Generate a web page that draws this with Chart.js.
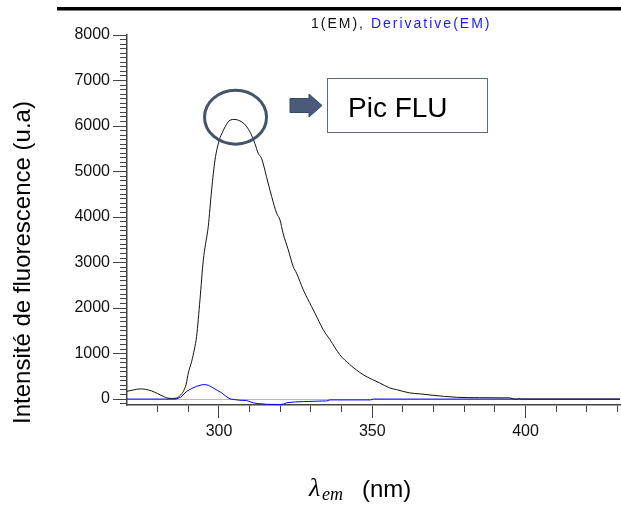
<!DOCTYPE html>
<html><head><meta charset="utf-8">
<script src="https://cdn.jsdelivr.net/npm/chart.js@4/dist/chart.umd.min.js"></script>
<style>html,body{margin:0;padding:0;background:#fff;overflow:hidden}canvas{display:block}</style>
</head><body>
<canvas id="c" width="621" height="506"></canvas>
<script>
// ---- data ----
const emWavelength = [270, 272, 274.3, 276, 278, 280, 282, 283, 284.5, 286, 287.5, 288.4, 289.3, 290, 291.1, 292, 292.7, 293.8, 294.9, 295.6, 296.5, 297.6, 298.7, 300.1, 301.2, 302, 303.6, 305.2, 306.8, 308.1, 310.1, 311.7, 312.8, 313.9, 315.5, 317.2, 318.8, 319.9, 320.9, 322.6, 324.2, 325.3, 327.5, 330.2, 331.3, 334, 336.2, 339.4, 342.7, 347, 350, 352.4, 355.7, 357.9, 362.2, 365.5, 369.8, 377.4, 385, 394.8, 396.4, 397.5, 398, 398.5, 410, 430.8];
const emIntensity  = [171, 200, 224, 215, 180, 120, 55, 26, 15, 20, 90, 171, 330, 575, 830, 1100, 1377, 2182, 3059, 3400, 3790, 4594, 5252, 5691, 5873, 5982, 6129, 6145, 6114, 6057, 5873, 5618, 5399, 5289, 4886, 4447, 4083, 3936, 3645, 3279, 2912, 2768, 2401, 2035, 1890, 1524, 1305, 976, 757, 537, 430, 355, 245, 208, 136, 115, 83, 40, 30, 26, 0, 0, 15, 0, 0, 0];

const derivWavelength = [270, 286, 287.5, 289.5, 291, 292.7, 294.5, 295.4, 296.5, 298.1, 299.5, 300.9, 302.3, 303.6, 305, 306.8, 309, 311.2, 313, 315.5, 319.9, 321, 322, 325, 327.5, 335.1, 336.2, 349.5, 350.3, 430.8];
const derivValue      = [0, 0, 40, 171, 230, 281, 315, 318, 305, 246, 190, 136, 60, 4, -10, -26, -30, -83, -100, -115, -120, -110, -83, -60, -55, -40, -18, -18, 0, 0];

const xTickLabels = [300, 350, 400];
const yTickLabels = [0, 1000, 2000, 3000, 4000, 5000, 6000, 7000, 8000];
const xMinorStep = 10;
const yMinorStep = 100;
const X_MIN = 270, X_MAX = 430.8, Y_MIN = -130, Y_MAX = 8000;

const yTitle = 'Intensité de fluorescence (u.a)';
const topTitleBlack = '1(EM), ';
const topTitleBlue = 'Derivative(EM)';
const boxText = 'Pic FLU';

const SANS = '"Liberation Sans", Arial, sans-serif';
const SERIF = '"Liberation Serif", "DejaVu Serif", serif';
const SLATE = '#44546a';
const AXIS = '#444';

function minorTicks(from, to, step) {
  const out = [];
  for (let v = from; v <= to + 1e-9; v += step) out.push({ value: v });
  return out;
}

const deco = {
  id: 'deco',
  afterDraw(chart) {
    const c = chart.ctx;
    const xs = chart.scales.x, ys = chart.scales.y;
    c.save();
    // top thick line
    c.fillStyle = '#000';
    c.fillRect(57, 7, 564, 3.5);

    // top title with letter spacing
    c.font = '14px ' + SANS;
    c.textBaseline = 'alphabetic'; c.textAlign = 'left';
    let tx = 311;
    const draw = (s, col) => {
      c.fillStyle = col;
      for (const ch of s) { c.fillText(ch, tx, 28); tx += c.measureText(ch).width + 2; }
    };
    draw(topTitleBlack, '#111');
    draw(topTitleBlue, '#1a1aff');

    // ellipse around the peak
    const ex = xs.getPixelForValue(305.4), ey = ys.getPixelForValue(6195);
    c.strokeStyle = SLATE; c.lineWidth = 3;
    c.beginPath(); c.ellipse(ex, ey, 31, 27, 0, 0, Math.PI * 2); c.stroke();

    // arrow
    c.fillStyle = '#4a5a78'; c.strokeStyle = '#2f4a6e'; c.lineWidth = 1;
    c.beginPath();
    c.moveTo(290, 98.5); c.lineTo(309, 98.5); c.lineTo(309, 94); c.lineTo(322, 105.5);
    c.lineTo(309, 117); c.lineTo(309, 112.5); c.lineTo(290, 112.5); c.closePath();
    c.fill(); c.stroke();

    // box
    c.fillStyle = '#fff'; c.fillRect(327.5, 78.5, 160, 54);
    c.strokeStyle = '#5a6a85'; c.lineWidth = 1;
    c.strokeRect(327.5, 78.5, 160, 54);
    c.fillStyle = '#000'; c.font = '28px ' + SANS;
    c.fillText(boxText, 348, 117);

    // y title
    c.save();
    c.translate(30, 262.5); c.rotate(-Math.PI / 2);
    c.font = '24px ' + SANS; c.textAlign = 'center'; c.fillStyle = '#000';
    c.fillText(yTitle, 0, 0);
    c.restore();

    // x title: lambda_em (nm)
    c.fillStyle = '#000'; c.textAlign = 'left';
    c.font = 'italic 26px ' + SERIF; c.fillText('λ', 309, 496);
    c.font = 'italic 18px ' + SERIF; c.fillText('em', 322, 500);
    c.font = '24px ' + SANS; c.fillText('(nm)', 362, 497);
    c.restore();
  }
};

const labelFont = { family: SANS, size: 16 };

new Chart(document.getElementById('c'), {
  type: 'line',
  data: {
    datasets: [
      { label: topTitleBlack, data: emWavelength.map((x, i) => ({ x, y: emIntensity[i] })),
        borderColor: '#111', borderWidth: 1, pointRadius: 0, cubicInterpolationMode: 'monotone', fill: false },
      { label: topTitleBlue, data: derivWavelength.map((x, i) => ({ x, y: derivValue[i] })),
        borderColor: '#0000ff', borderWidth: 1, pointRadius: 0, tension: 0, fill: false }
    ]
  },
  options: {
    responsive: false, animation: false, devicePixelRatio: 1,
    layout: { padding: { left: 0, top: 35, right: 1, bottom: 0 } },
    plugins: { legend: { display: false }, tooltip: { enabled: false }, title: { display: false } },
    scales: {
      // inner x axis: minor ticks every 10 nm
      x: {
        type: 'linear', position: 'bottom', weight: 0, min: X_MIN, max: X_MAX,
        afterBuildTicks: s => { s.ticks = minorTicks(280, X_MAX, xMinorStep); },
        afterFit: s => { s.height = 7; },
        grid: { drawOnChartArea: false, tickLength: 7, tickColor: AXIS, color: AXIS },
        border: { display: true, color: AXIS, width: 1.5 },
        ticks: { display: false }
      },
      // outer x axis: major ticks with labels
      xMajor: {
        type: 'linear', position: 'bottom', weight: 1, min: X_MIN, max: X_MAX,
        afterBuildTicks: s => { s.ticks = xTickLabels.map(v => ({ value: v })); },
        afterFit: s => { s.height = 94; },
        grid: { drawOnChartArea: false, tickLength: 6, tickColor: AXIS, color: AXIS },
        border: { display: false },
        ticks: { font: labelFont, color: '#111', padding: 4, maxRotation: 0, autoSkip: false,
                 callback: v => String(v) }
      },
      // inner y axis: minor ticks every 100
      y: {
        type: 'linear', position: 'left', weight: 0, min: Y_MIN, max: Y_MAX,
        afterBuildTicks: s => { s.ticks = minorTicks(-100, Y_MAX, yMinorStep); },
        afterFit: s => { s.width = 7; },
        grid: { color: c => (c.tick && c.tick.value === 0) ? '#b8b8b8' : 'rgba(0,0,0,0)',
                tickColor: AXIS, tickLength: 7, drawOnChartArea: true },
        border: { display: true, color: AXIS, width: 1.5 },
        ticks: { display: false }
      },
      // outer y axis: major ticks with labels
      yMajor: {
        type: 'linear', position: 'left', weight: 1, min: Y_MIN, max: Y_MAX,
        afterBuildTicks: s => { s.ticks = yTickLabels.map(v => ({ value: v })); },
        afterFit: s => { s.width = 120; },
        grid: { drawOnChartArea: false, tickColor: AXIS, tickLength: 7 },
        border: { display: false },
        ticks: { font: labelFont, color: '#111', padding: 3, autoSkip: false,
                 callback: v => String(v) }
      }
    }
  },
  plugins: [deco]
});
</script>
</body></html>
